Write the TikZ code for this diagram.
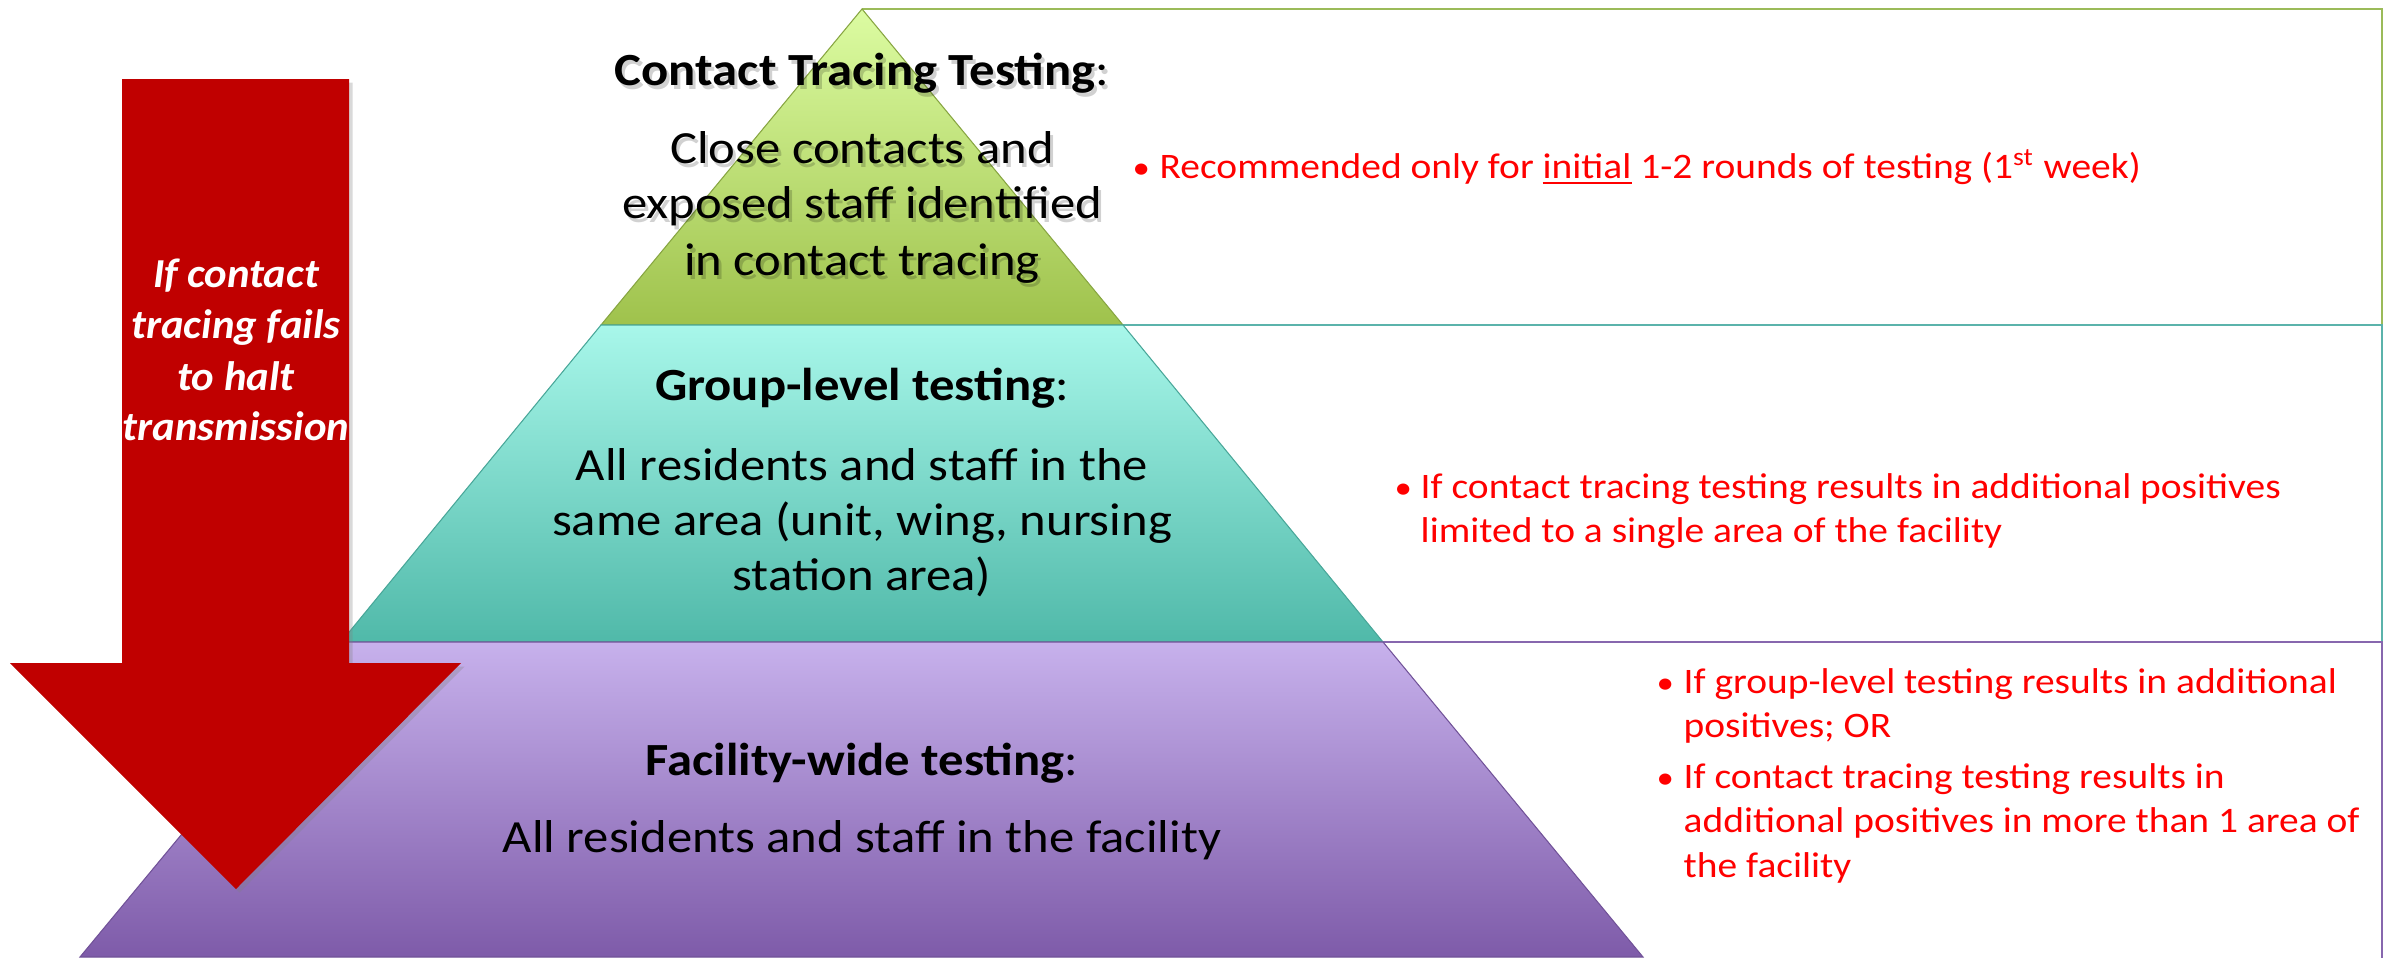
\documentclass[tikz,border=0pt]{standalone}
\usepackage{fontspec}
\setmainfont{Carlito}[FakeStretch=1.1]
\newfontfamily\arrowfont{Carlito}[FakeStretch=1.04]
\usetikzlibrary{shadows}
\definecolor{arrowred}{HTML}{C00000}
\definecolor{txtred}{HTML}{FF0000}
\definecolor{greentop}{HTML}{DCFCA2}
\definecolor{greenbot}{HTML}{9FC24C}
\definecolor{greenline}{HTML}{9BBB59}
\definecolor{tealtop}{HTML}{A8F7EA}
\definecolor{tealbot}{HTML}{50B9A9}
\definecolor{tealline}{HTML}{5BB3AB}
\definecolor{purptop}{HTML}{C7B1EC}
\definecolor{purpbot}{HTML}{7E5BA9}
\definecolor{purpline}{HTML}{8767AE}
\tikzset{
  tiertext/.style={font=\fontsize{13.1}{15.9}\selectfont, anchor=base, inner sep=0pt},
  shadowtext/.style={tiertext, text=black, text opacity=0.18},
  arrowtext/.style={font=\arrowfont\fontsize{11.7}{14.5}\selectfont\bfseries\itshape, text=white, anchor=base, inner sep=0pt},
  redtext/.style={font=\fontsize{10.2}{12.4}\selectfont, text=txtred, anchor=base west, inner sep=0pt},
  redbullet/.style={font=\fontsize{9}{10}\selectfont, text=txtred, anchor=base west, inner sep=0pt},
  boxline/.style={line width=0.7pt},
}
\begin{document}
\begin{tikzpicture}[x=0.01cm,y=-0.01cm]
\useasboundingbox (0,0) rectangle (2387,957);
\clip (0,0) rectangle (2387,957);
% pyramid corners
\coordinate (apex) at (862,9);
\coordinate (gL) at (601,325);
\coordinate (gR) at (1123,325);
\coordinate (tL) at (341,642);
\coordinate (tR) at (1383,642);
\coordinate (pL) at (80,957);
\coordinate (pR) at (1643,957);
\coordinate (b1) at (2382,9);
\coordinate (b2) at (2382,325);
\coordinate (b3) at (2382,642);
\coordinate (b4) at (2382,960);
% text boxes
\draw[boxline, greenline] (apex) -- (b1) -- (b2);
\draw[boxline, tealline] (gR) -- (b2) -- (b3);
\draw[boxline, purpline] (tR) -- (b3) -- (b4);
% pyramid tiers
\path[top color=greentop, bottom color=greenbot, draw=greenbot!85!black, line width=0.3pt] (apex) -- (gR) -- (gL) -- cycle;
\path[top color=tealtop, bottom color=tealbot, draw=tealbot!90!black, line width=0.3pt] (gL) -- (gR) -- (tR) -- (tL) -- cycle;
\path[top color=purptop, bottom color=purpbot, draw=purpbot!90!black, line width=0.3pt] (tL) -- (tR) -- (pR) -- (pL) -- cycle;
% red arrow
\path[fill=arrowred, drop shadow={shadow xshift=1pt, shadow yshift=-1pt, opacity=0.3}]
  (122,79) -- (349,79) -- (349,663) -- (461,663) -- (236,889) -- (10,663) -- (122,663) -- cycle;
\node[arrowtext] (a1) at (236,287) {If contact};
\node[arrowtext] (a2) at (236,338) {tracing fails};
\node[arrowtext] (a3) at (236,390) {to halt};
\node[arrowtext] (a4) at (236,440) {transmission};
% top tier text
\node[shadowtext] (s0) at (865,89) {{\bfseries Contact Tracing Testing}:};
\node[shadowtext] (s1) at (865,167) {Close contacts and};
\node[shadowtext] (s2) at (865,222) {exposed staff identified};
\node[shadowtext] (s3) at (865,279) {in contact tracing};
\node[tiertext] (c0) at (862,85) {{\bfseries Contact Tracing Testing}:};
\node[tiertext] (c1) at (862,163) {Close contacts and};
\node[tiertext] (c2) at (862,218) {exposed staff identified};
\node[tiertext] (c3) at (862,275) {in contact tracing};
% middle tier text
\node[tiertext] (g0) at (862,400) {{\bfseries Group-level testing}:};
\node[tiertext] (g1) at (862,480) {All residents and staff in the};
\node[tiertext] (g2) at (862,535) {same area (unit, wing, nursing};
\node[tiertext] (g3) at (862,590) {station area)};
% bottom tier text
\node[tiertext] (f0) at (862,775) {{\bfseries Facility-wide testing}:};
\node[tiertext] (f1) at (862,852) {All residents and staff in the facility};
% box 1 text
\node[redbullet] (r1b) at (1132,178) {•};
\node[redtext] (r1) at (1159,178) {Recommended only for \underline{initial} 1-2 rounds of testing (1\textsuperscript{st} week)};
% box 2 text
\node[redbullet] (r2b) at (1394,498) {•};
\node[redtext] (r2a) at (1420,498) {If contact tracing testing results in additional positives};
\node[redtext] (r2c) at (1420,542) {limited to a single area of the facility};
% box 3 text
\node[redbullet] (r3b) at (1656,693) {•};
\node[redtext] (r3a) at (1683,693) {If group-level testing results in additional};
\node[redtext] (r3c) at (1683,737) {positives; OR};
\node[redbullet] (r4b) at (1656,788) {•};
\node[redtext] (r4a) at (1683,788) {If contact tracing testing results in};
\node[redtext] (r4c) at (1683,832) {additional positives in more than 1 area of};
\node[redtext] (r4d) at (1683,877) {the facility};
\end{tikzpicture}
\end{document}
